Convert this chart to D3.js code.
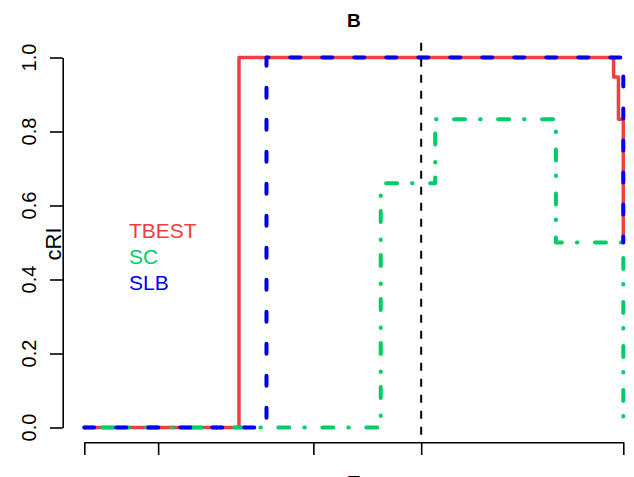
<!DOCTYPE html>
<html><head><meta charset="utf-8">
<script src="https://cdn.jsdelivr.net/npm/d3@7"></script>
<style>html,body{margin:0;padding:0;background:#fff;overflow:hidden}</style>
</head><body>
<svg id="chart" width="634" height="477"></svg>
<script>
// ---- data ----
const xTicks = [0, 13.7, 42.5, 62.5, 100];
const yTicks = [0, 0.2, 0.4, 0.6, 0.8, 1.0];
const yTickLabels = ["0.0", "0.2", "0.4", "0.6", "0.8", "1.0"];
const seriesNames = ["TBEST", "SC", "SLB"];
const tbestX = [0, 28.7, 98.2, 99.1, 100];
const tbestY = [0, 1, 0.947, 0.833, 0.5];
const scX = [0, 55.0, 65.1, 87.5, 100];
const scY = [0, 0.66, 0.833, 0.5, 0];
const slbX = [0, 33.8, 100];
const slbY = [0, 1, 0.5];
const cutoffX = 62.5;

// ---- drawing ----
const svg = d3.select("#chart");
const font = "Liberation Sans, Arial, Helvetica, sans-serif";
const x = d3.scaleLinear().domain([0, 100]).range([84.3, 623.3]);
const y = d3.scaleLinear().domain([0, 1]).range([427.5, 57.5]);
const plotLeft = 62.7, plotBottom = 442.3, plotTop = 42.7;

const line = d3.line().x(d => x(d[0])).y(d => y(d[1])).curve(d3.curveStepAfter);
const series = [
  {name: seriesNames[0], xs: tbestX, ys: tbestY, color: "#EF4040", w: 3.5, dash: null},
  {name: seriesNames[1], xs: scX, ys: scY, color: "#00CD66", w: 4, dash: "0.5,17.5,11,15"},
  {name: seriesNames[2], xs: slbX, ys: slbY, color: "#0000F0", w: 4, dash: "10,22"}
];
series.forEach(s => {
  svg.append("path")
    .attr("d", line(s.xs.map((v, i) => [v, s.ys[i]])))
    .attr("fill", "none").attr("stroke", s.color).attr("stroke-width", s.w)
    .attr("stroke-linecap", "round").attr("stroke-linejoin", "round")
    .attr("stroke-dasharray", s.dash);
});

// vertical cutoff line
svg.append("line")
  .attr("x1", x(cutoffX)).attr("x2", x(cutoffX))
  .attr("y1", plotTop).attr("y2", plotBottom)
  .attr("stroke", "#000").attr("stroke-width", 2).attr("stroke-dasharray", "8,8");

// x axis (no labels)
const xAxis = d3.axisBottom(x).tickValues(xTicks).tickFormat("").tickSize(12.7).tickSizeOuter(0);
const gx = svg.append("g").attr("transform", `translate(0,${plotBottom})`).call(xAxis);
gx.selectAll("path,line").attr("stroke", "#000").attr("stroke-width", 1.6);

// y axis
const yAxis = d3.axisLeft(y).tickValues(yTicks).tickFormat("").tickSize(12.7).tickSizeOuter(0);
const gy = svg.append("g").attr("transform", `translate(${plotLeft},0)`).call(yAxis);
gy.selectAll("path,line").attr("stroke", "#000").attr("stroke-width", 1.6);
yTicks.forEach((t, i) => {
  svg.append("text")
    .attr("transform", `translate(36,${y(t)}) rotate(-90)`)
    .attr("text-anchor", "middle")
    .attr("font-family", font).attr("font-size", 20).attr("fill", "#000")
    .text(yTickLabels[i]);
});

// y label
svg.append("text")
  .attr("transform", `translate(61,244) rotate(-90)`)
  .attr("text-anchor", "middle")
  .attr("font-family", font).attr("font-size", 22).attr("fill", "#000")
  .text("cRI");

// x label (mostly cut off, as in the reference)
svg.append("text")
  .attr("x", 353.8).attr("y", 490)
  .attr("text-anchor", "middle")
  .attr("font-family", font).attr("font-size", 20).attr("fill", "#000")
  .text("T");

// title
svg.append("text")
  .attr("x", 353.8).attr("y", 27)
  .attr("text-anchor", "middle")
  .attr("font-family", font).attr("font-size", 19).attr("font-weight", "bold").attr("fill", "#000")
  .text("B");

// legend text
series.forEach((s, i) => {
  svg.append("text")
    .attr("x", 129).attr("y", 238 + i * 26)
    .attr("font-family", font).attr("font-size", 21).attr("fill", s.color)
    .text(s.name);
});
</script>
</body></html>
